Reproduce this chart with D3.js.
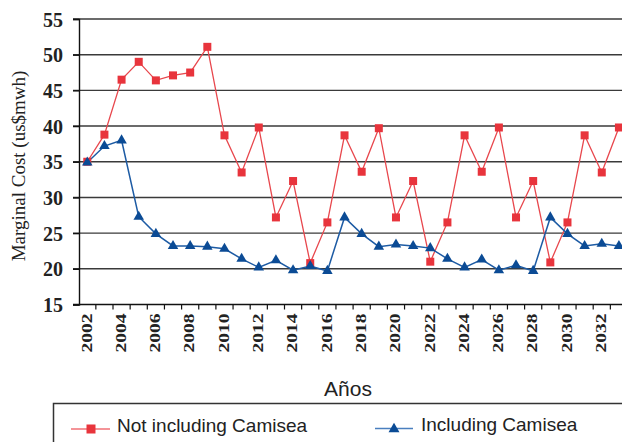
<!DOCTYPE html>
<html>
<head>
<meta charset="utf-8">
<script src="https://cdn.jsdelivr.net/npm/d3@7"></script>
<style>
  html, body { margin: 0; padding: 0; background: #fff; }
  svg { display: block; }
</style>
</head>
<body>
<svg id="chart" width="622" height="442"></svg>
<script>
const years = d3.range(2002, 2034);
const notIncluding = [35.0, 38.8, 46.5, 49.0, 46.4, 47.1, 47.5, 51.1, 38.7, 33.5, 39.8, 27.2, 32.3, 20.8,
  26.5, 38.7, 33.6, 39.7, 27.2, 32.3, 21.0, 26.5, 38.7, 33.6, 39.8, 27.2, 32.3, 20.9, 26.5, 38.7, 33.5, 39.8];
const including = [34.9, 37.2, 38.0, 27.3, 24.9, 23.2, 23.2, 23.1, 22.8, 21.4, 20.2, 21.2, 19.8, 20.4,
  19.7, 27.2, 24.9, 23.1, 23.4, 23.2, 22.9, 21.4, 20.2, 21.3, 19.8, 20.5, 19.7, 27.2, 24.9, 23.2, 23.5, 23.2];
const yTicks = [15, 20, 25, 30, 35, 40, 45, 50, 55];
const xTickLabels = years.filter(y => y % 2 === 0);
const seriesNames = ["Not including Camisea", "Including Camisea"];

const W = 622, H = 442;
const svg = d3.select("#chart");

const x = d3.scaleBand().domain(years).range([78.7, 78.7 + 32 * 17.15]).padding(0);
const y = d3.scaleLinear().domain([15, 55]).range([304.5, 19]);
const axisX = 79;

// gridlines
svg.append("g").selectAll("line").data(yTicks.filter(v => v > 15)).join("line")
  .attr("x1", 73).attr("x2", W)
  .attr("y1", d => y(d)).attr("y2", d => y(d))
  .attr("stroke", "#3a3a3a").attr("stroke-width", 1.4);

// y axis
const yAxis = d3.axisLeft(y).tickValues(yTicks).tickSize(6).tickPadding(10).tickFormat(d3.format("d"));
const gy = svg.append("g").attr("transform", `translate(${axisX},0)`).call(yAxis);
gy.select(".domain").attr("stroke", "#111").attr("stroke-width", 1.4);
gy.selectAll(".tick line").attr("stroke", "#111").attr("stroke-width", 1.4);
gy.selectAll(".tick text")
  .attr("font-family", "'Liberation Serif', 'DejaVu Serif', serif")
  .attr("font-weight", "bold").attr("font-size", 20).attr("fill", "#222")
  .attr("dy", "0.35em");

// x axis line
svg.append("line").attr("x1", 73).attr("x2", W).attr("y1", y(15)).attr("y2", y(15))
  .attr("stroke", "#111").attr("stroke-width", 1.4);
// x ticks at band boundaries
svg.append("g").selectAll("line").data(years.slice(1)).join("line")
  .attr("x1", d => x(d)).attr("x2", d => x(d))
  .attr("y1", y(15)).attr("y2", y(15) + 5)
  .attr("stroke", "#111").attr("stroke-width", 1.2);
// x labels
svg.append("g").selectAll("text").data(xTickLabels).join("text")
  .attr("transform", d => `translate(${x(d) + x.bandwidth() / 2 - 1},${y(15) + 9}) rotate(-90)`)
  .attr("text-anchor", "end").attr("dy", "0.35em")
  .attr("font-family", "'Liberation Serif', 'DejaVu Serif', serif")
  .attr("font-weight", "bold").attr("font-size", 15).attr("fill", "#222")
  .attr("textLength", 39).attr("lengthAdjust", "spacingAndGlyphs")
  .text(d => d);

// axis titles
svg.append("text")
  .attr("transform", `translate(25,166) rotate(-90)`)
  .attr("text-anchor", "middle")
  .attr("font-family", "'Liberation Serif', 'DejaVu Serif', serif")
  .attr("font-size", 19).attr("fill", "#222")
  .text("Marginal Cost (us$mwh)");
svg.append("text")
  .attr("x", 348).attr("y", 396)
  .attr("text-anchor", "middle")
  .attr("font-family", "'Liberation Sans', Arial, sans-serif")
  .attr("font-size", 21).attr("fill", "#222")
  .text("Años");

const cx = d => x(d) + x.bandwidth() / 2;
const redLine = "#e8474d", redFill = "#e8343c";
const blueLine = "#1d5ba4", blueFill = "#0b4b95";

// red series
svg.append("path").datum(notIncluding)
  .attr("fill", "none").attr("stroke", redLine).attr("stroke-width", 1.3)
  .attr("d", d3.line().x((d, i) => cx(years[i])).y(d => y(d)));
// blue series
svg.append("path").datum(including)
  .attr("fill", "none").attr("stroke", blueLine).attr("stroke-width", 1.5)
  .attr("d", d3.line().x((d, i) => cx(years[i])).y(d => y(d)));

svg.append("g").selectAll("rect").data(notIncluding).join("rect")
  .attr("x", (d, i) => cx(years[i]) - 4).attr("y", d => y(d) - 4)
  .attr("width", 8).attr("height", 8).attr("fill", redFill);

const tri = d3.symbol().type(d3.symbolTriangle).size(48);
svg.append("g").selectAll("path").data(including).join("path")
  .attr("transform", (d, i) => `translate(${cx(years[i])},${y(d)})`)
  .attr("d", tri).attr("fill", blueFill);

// legend
svg.append("rect").attr("x", 53.5).attr("y", 403.5).attr("width", 620).attr("height", 80)
  .attr("fill", "none").attr("stroke", "#333").attr("stroke-width", 1.5);
const lg = svg.append("g");
lg.append("line").attr("x1", 71).attr("x2", 110).attr("y1", 429).attr("y2", 429)
  .attr("stroke", "#f07076").attr("stroke-width", 1.6);
lg.append("rect").attr("x", 86.5).attr("y", 424.5).attr("width", 9).attr("height", 9).attr("fill", redFill);
lg.append("text").attr("x", 117).attr("y", 431.5)
  .attr("font-family", "'Liberation Sans', Arial, sans-serif").attr("font-size", 19).attr("fill", "#222")
  .text(seriesNames[0]);
lg.append("line").attr("x1", 375).attr("x2", 413).attr("y1", 428.5).attr("y2", 428.5)
  .attr("stroke", "#4a7fbf").attr("stroke-width", 1.6);
lg.append("path").attr("transform", "translate(394,429)").attr("d", d3.symbol().type(d3.symbolTriangle).size(52)).attr("fill", blueFill);
lg.append("text").attr("x", 421).attr("y", 431)
  .attr("font-family", "'Liberation Sans', Arial, sans-serif").attr("font-size", 19).attr("fill", "#222")
  .text(seriesNames[1]);
</script>
</body>
</html>
